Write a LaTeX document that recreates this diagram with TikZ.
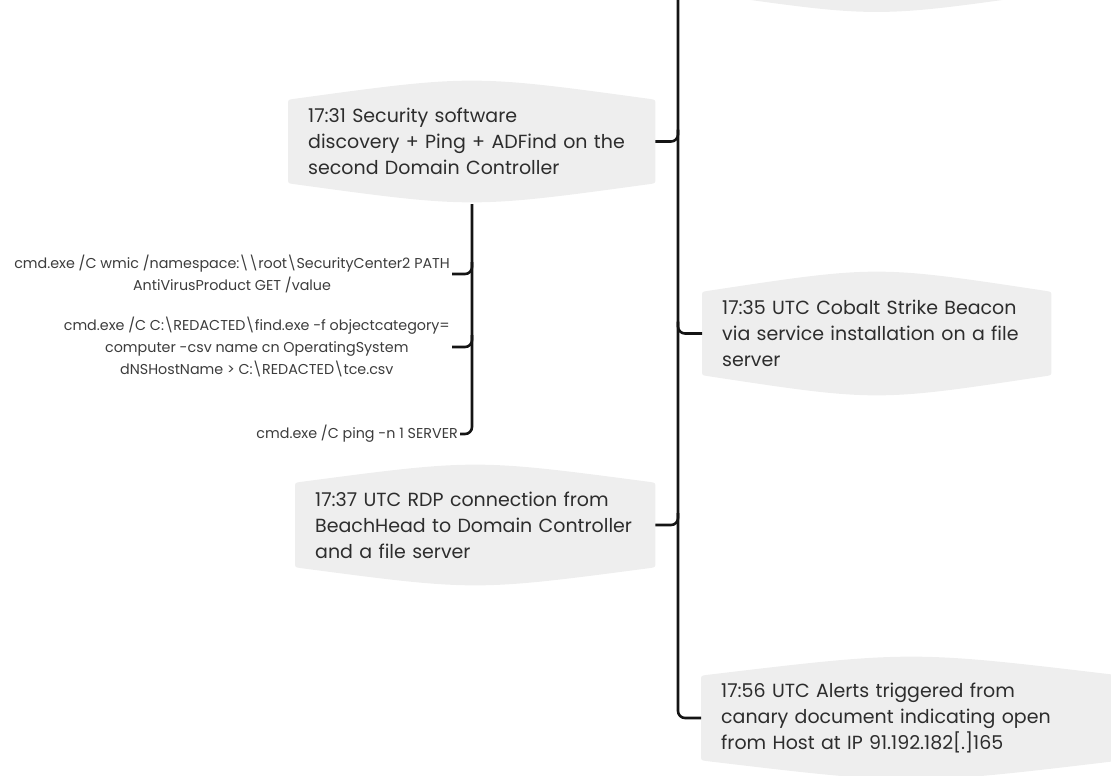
\documentclass[tikz,border=0pt]{standalone}
\usepackage{fontspec}
\setmainfont{Poppins}
\usetikzlibrary{calc}
\definecolor{bubblegray}{RGB}{238,238,238}
\definecolor{ink}{RGB}{45,45,45}
\definecolor{cmdink}{RGB}{60,60,60}
\definecolor{wire}{RGB}{20,20,20}
\pgfdeclarelayer{bg}
\pgfsetlayers{bg,main}
\tikzset{
  conn/.style={line width=2.6pt, draw=wire, rounded corners=7pt},
  event/.style={rectangle, inner xsep=20pt, inner ysep=0pt, anchor=west,
    align=left, text=ink, font=\fontsize{19}{26}\selectfont},
  cmd/.style={inner sep=2pt, anchor=east, align=center, text=cmdink,
    font=\fontsize{14.3}{22}\selectfont},
}
% light grey card with bulging top and bottom edges, drawn behind a node
\newcommand\cardbehind[2]{%
  \begin{pgfonlayer}{bg}
  \fill[bubblegray] let \p1=(#1.north west), \p2=(#1.south east) in
    (\x1,\y1-5pt) -- (\x1,\y2+5pt)
    .. controls (\x1,\y2) .. (\x1+5pt,\y2-0.8pt)
    .. controls ({(\x1+\x2)/2},\y2-#2*1.33pt) .. (\x2-5pt,\y2-0.8pt)
    .. controls (\x2,\y2) .. (\x2,\y2+5pt)
    -- (\x2,\y1-5pt)
    .. controls (\x2,\y1) .. (\x2-5pt,\y1+0.8pt)
    .. controls ({(\x1+\x2)/2},\y1+#2*1.33pt) .. (\x1+5pt,\y1+0.8pt)
    .. controls (\x1,\y1) .. cycle;
  \end{pgfonlayer}}
\begin{document}
\begin{tikzpicture}[x=1pt,y=-1pt]
\useasboundingbox (0,0) rectangle (1111,776);

% card of the previous event, only its lower rim shows
\fill[bubblegray] (702,-60) -- (702,-12)
  .. controls (702,-7) .. (707,-6.2)
  .. controls (876.5,18) .. (1046,-6.2)
  .. controls (1051,-7) .. (1051,-12) -- (1051,-60) -- cycle;

% events
\node[event, minimum width=367, minimum height=83, text width=327] (box1) at (288,141.5)
  {17:31 Security software\\discovery + Ping + ADFind on the\\second Domain Controller};
\node[event, minimum width=349, minimum height=83, text width=309] (box2) at (702,333.5)
  {17:35 UTC Cobalt Strike Beacon\\via service installation on a file\\server};
\node[event, minimum width=360, minimum height=84, text width=320] (box3) at (295,525)
  {17:37 UTC RDP connection from\\BeachHead to Domain Controller\\and a file server};
\node[event, minimum width=420, minimum height=84, text width=380] (box4) at (701,718)
  {17:56 UTC Alerts triggered from\\canary document indicating open\\from Host at IP 91.192.182[.]165};

\cardbehind{box1}{19}
\cardbehind{box2}{20}
\cardbehind{box3}{18}
\cardbehind{box4}{19}

% commands run during the 17:31 discovery
\node[cmd] (cmd1) at (452,274)
  {cmd.exe /C wmic /namespace:\textbackslash\textbackslash root\textbackslash SecurityCenter2 PATH\\AntiVirusProduct GET /value};
\node[cmd] (cmd2) at (452,347)
  {cmd.exe /C C:\textbackslash REDACTED\textbackslash find.exe -f objectcategory=\\computer -csv name cn OperatingSystem\\dNSHostName > C:\textbackslash REDACTED\textbackslash tce.csv};
\node[cmd] (cmd3) at (460,434) {cmd.exe /C ping -n 1 SERVER};

% timeline trunk
\coordinate (trunktop) at (678,-5);
\coordinate (subtop) at (472,204);
\draw[conn] (trunktop) -- (box4.west -| trunktop) -- (box4.west);
\draw[conn] (box1.east) -- (box1.east -| trunktop) -- ++(0,-12);
\draw[conn] (box2.west -| trunktop) ++(0,-12) -- ++(0,12) -- (box2.west);
\draw[conn] (box3.east) -- (box3.east -| trunktop) -- ++(0,-12);

% branch of commands
\draw[conn] (subtop) -- (subtop |- cmd3.east) -- (cmd3.east);
\draw[conn] (cmd1.east) -- (cmd1.east -| subtop) -- ++(0,-12);
\draw[conn] (cmd2.east) -- (cmd2.east -| subtop) -- ++(0,-12);
\end{tikzpicture}
\end{document}
